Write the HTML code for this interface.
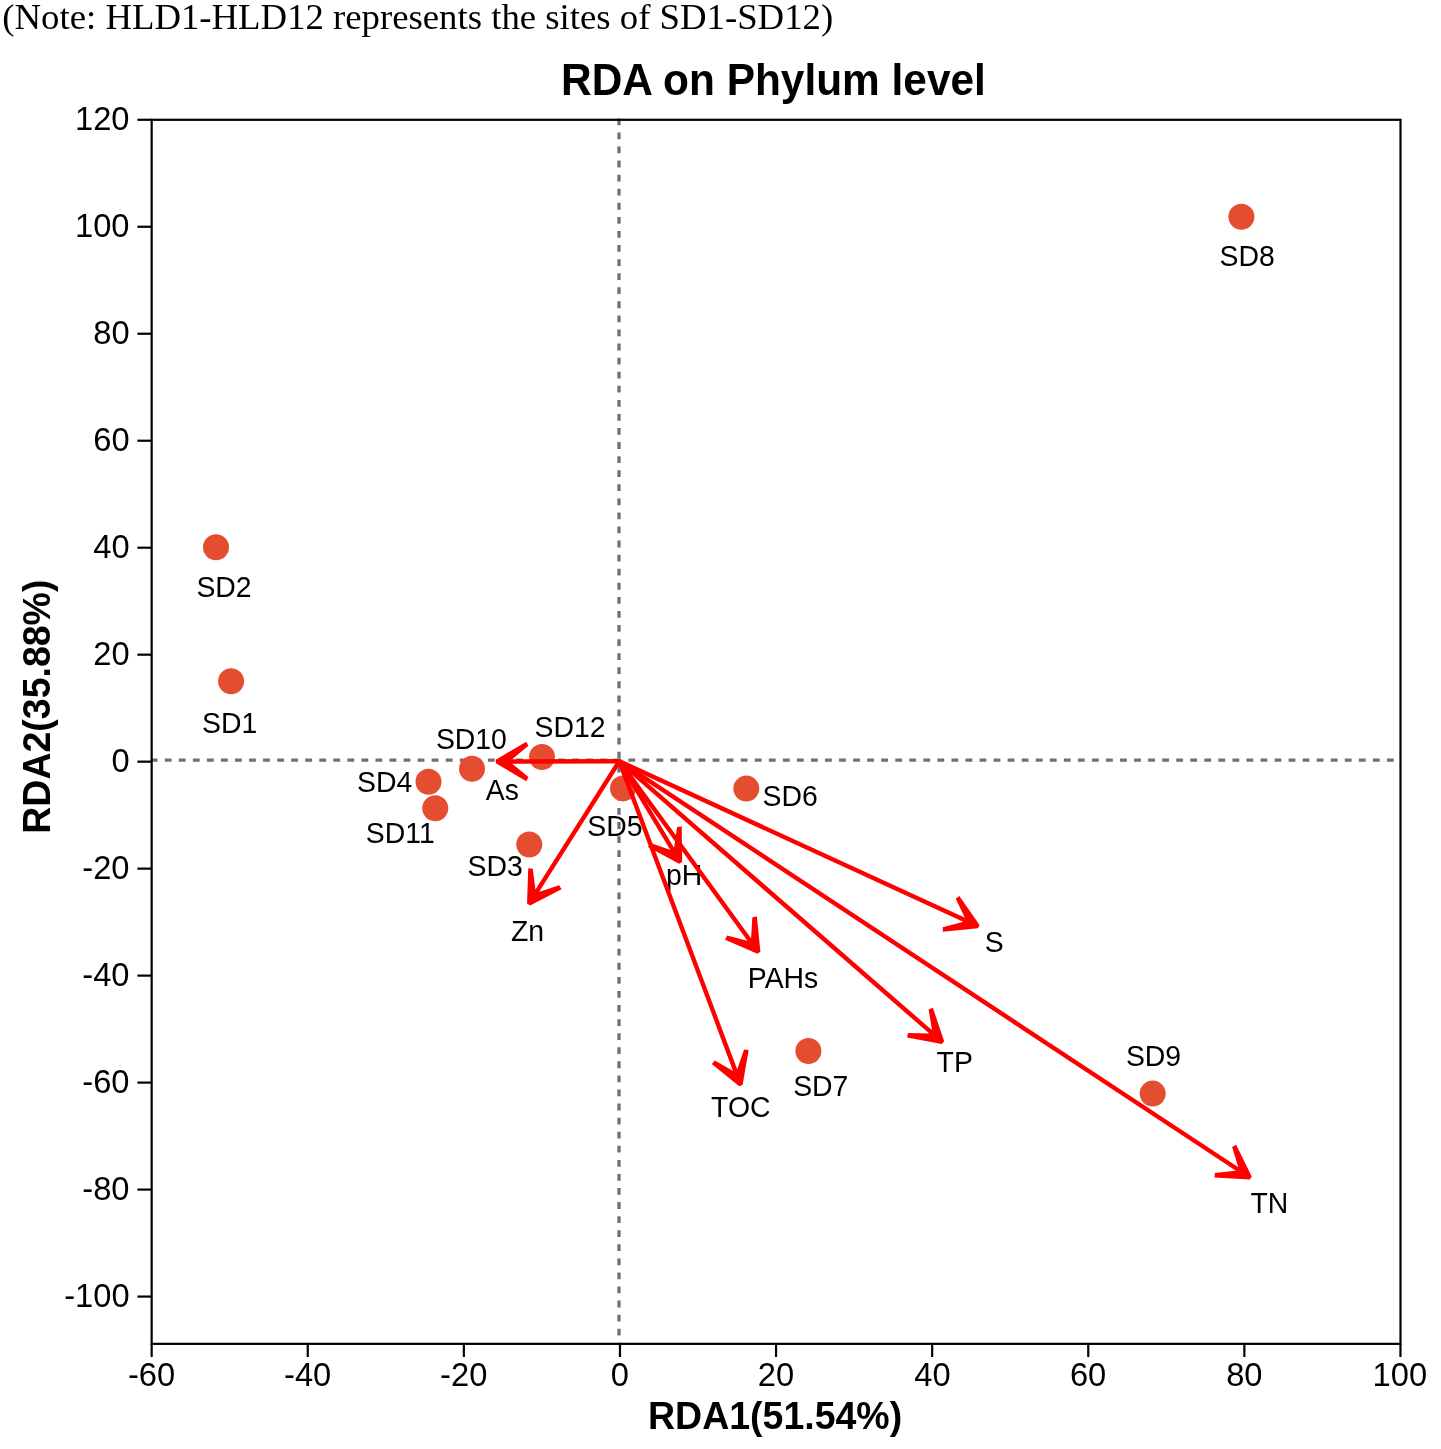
<!DOCTYPE html>
<html><head><meta charset="utf-8"><title>RDA on Phylum level</title>
<style>html,body{margin:0;padding:0;background:#fff;width:1441px;height:1449px;overflow:hidden;position:relative;font-family:"Liberation Sans",sans-serif}</style>
</head><body>
<svg width="1441" height="1449" viewBox="0 0 1441 1449" style="position:absolute;left:0;top:0;will-change:transform">
<rect width="1441" height="1449" fill="#fff"/>
<text transform="translate(2.34,28.62)" font-family="&quot;Liberation Serif&quot;, serif" font-weight="normal" font-size="36.75" fill="#000">(Note: HLD1-HLD12 represents the sites of SD1-SD12)</text>
<text transform="translate(561.03,95.41) scale(1,1.04)" font-family="&quot;Liberation Sans&quot;, sans-serif" font-weight="bold" font-size="42.4" fill="#000">RDA on Phylum level</text>
<line x1="150.73" y1="760.2" x2="1400.5" y2="760.2" stroke="#707070" stroke-width="3.3" stroke-dasharray="6.8 7.248"/>
<line x1="619.0" y1="118.4" x2="619.0" y2="1343.85" stroke="#707070" stroke-width="3.3" stroke-dasharray="6.8 7.274"/>
<circle cx="1241.4" cy="216.7" r="13" fill="#E54D30"/>
<circle cx="216" cy="547.3" r="13" fill="#E54D30"/>
<circle cx="231.1" cy="681.2" r="13" fill="#E54D30"/>
<circle cx="542" cy="757" r="13" fill="#E54D30"/>
<circle cx="472" cy="768.75" r="13" fill="#E54D30"/>
<circle cx="428.5" cy="781.75" r="13" fill="#E54D30"/>
<circle cx="435.25" cy="808.25" r="13" fill="#E54D30"/>
<circle cx="529.25" cy="844.5" r="13" fill="#E54D30"/>
<circle cx="623" cy="788.4" r="13" fill="#E54D30"/>
<circle cx="746.3" cy="788.6" r="13" fill="#E54D30"/>
<circle cx="808.4" cy="1051" r="13" fill="#E54D30"/>
<circle cx="1152.7" cy="1093.6" r="13" fill="#E54D30"/>
<text transform="translate(1219.55,265.91) scale(1,1.025)" font-family="&quot;Liberation Sans&quot;, sans-serif" font-weight="normal" font-size="28.4" fill="#000">SD8</text>
<text transform="translate(196.40,597.16) scale(1,1.025)" font-family="&quot;Liberation Sans&quot;, sans-serif" font-weight="normal" font-size="28.4" fill="#000">SD2</text>
<text transform="translate(202.07,733.11) scale(1,1.025)" font-family="&quot;Liberation Sans&quot;, sans-serif" font-weight="normal" font-size="28.4" fill="#000">SD1</text>
<text transform="translate(534.47,736.96) scale(1,1.025)" font-family="&quot;Liberation Sans&quot;, sans-serif" font-weight="normal" font-size="28.4" fill="#000">SD12</text>
<text transform="translate(435.89,749.38) scale(1,1.025)" font-family="&quot;Liberation Sans&quot;, sans-serif" font-weight="normal" font-size="28.4" fill="#000">SD10</text>
<text transform="translate(485.76,799.86) scale(1,1.025)" font-family="&quot;Liberation Sans&quot;, sans-serif" font-weight="normal" font-size="28.4" fill="#000">As</text>
<text transform="translate(357.01,791.88) scale(1,1.025)" font-family="&quot;Liberation Sans&quot;, sans-serif" font-weight="normal" font-size="28.4" fill="#000">SD4</text>
<text transform="translate(365.85,842.76) scale(1,1.025)" font-family="&quot;Liberation Sans&quot;, sans-serif" font-weight="normal" font-size="28.4" fill="#000">SD11</text>
<text transform="translate(467.47,875.63) scale(1,1.025)" font-family="&quot;Liberation Sans&quot;, sans-serif" font-weight="normal" font-size="28.4" fill="#000">SD3</text>
<text transform="translate(587.31,835.63) scale(1,1.025)" font-family="&quot;Liberation Sans&quot;, sans-serif" font-weight="normal" font-size="28.4" fill="#000">SD5</text>
<text transform="translate(510.92,940.63) scale(1,1.025)" font-family="&quot;Liberation Sans&quot;, sans-serif" font-weight="normal" font-size="28.4" fill="#000">Zn</text>
<text transform="translate(762.50,805.51) scale(1,1.025)" font-family="&quot;Liberation Sans&quot;, sans-serif" font-weight="normal" font-size="28.4" fill="#000">SD6</text>
<text transform="translate(665.96,885.21) scale(1,1.025)" font-family="&quot;Liberation Sans&quot;, sans-serif" font-weight="normal" font-size="28.4" fill="#000">pH</text>
<text transform="translate(747.82,988.31) scale(1,1.025)" font-family="&quot;Liberation Sans&quot;, sans-serif" font-weight="normal" font-size="28.4" fill="#000">PAHs</text>
<text transform="translate(984.81,951.61) scale(1,1.025)" font-family="&quot;Liberation Sans&quot;, sans-serif" font-weight="normal" font-size="28.4" fill="#000">S</text>
<text transform="translate(793.15,1095.76) scale(1,1.025)" font-family="&quot;Liberation Sans&quot;, sans-serif" font-weight="normal" font-size="28.4" fill="#000">SD7</text>
<text transform="translate(711.08,1116.96) scale(1,1.025)" font-family="&quot;Liberation Sans&quot;, sans-serif" font-weight="normal" font-size="28.4" fill="#000">TOC</text>
<text transform="translate(936.54,1071.86) scale(1,1.025)" font-family="&quot;Liberation Sans&quot;, sans-serif" font-weight="normal" font-size="28.4" fill="#000">TP</text>
<text transform="translate(1125.93,1066.41) scale(1,1.025)" font-family="&quot;Liberation Sans&quot;, sans-serif" font-weight="normal" font-size="28.4" fill="#000">SD9</text>
<text transform="translate(1250.43,1213.21) scale(1,1.025)" font-family="&quot;Liberation Sans&quot;, sans-serif" font-weight="normal" font-size="28.4" fill="#000">TN</text>
<g stroke="#ff0000" stroke-width="4.4" stroke-linecap="butt" fill="none"><line x1="619.3" y1="761.2" x2="504.80" y2="761.48"/><line x1="619.3" y1="761.2" x2="533.38" y2="896.94"/><line x1="619.3" y1="761.2" x2="675.97" y2="855.15"/><line x1="619.3" y1="761.2" x2="753.64" y2="945.44"/><line x1="619.3" y1="761.2" x2="737.74" y2="1077.11"/><line x1="619.3" y1="761.2" x2="970.63" y2="922.86"/><line x1="619.3" y1="761.2" x2="936.16" y2="1036.65"/><line x1="619.3" y1="761.2" x2="1243.22" y2="1172.99"/></g>
<g fill="#ff0000" stroke="none"><polygon points="495.80,763.30 526.35,781.13 528.44,777.02 512.51,763.96 512.49,758.96 528.36,745.82 526.25,741.73 495.80,759.70"/><polygon points="530.09,905.51 561.52,889.31 559.18,885.34 539.61,891.77 535.38,889.10 532.82,868.66 528.23,868.24 527.04,903.58"/><polygon points="682.16,861.93 681.73,826.56 677.14,826.88 674.13,847.26 669.85,849.85 650.42,843.00 647.99,846.91 679.08,863.79"/><polygon points="760.39,951.65 756.89,916.46 752.34,917.18 751.12,937.74 747.08,940.69 727.13,935.56 725.05,939.67 757.48,953.77"/><polygon points="742.59,1084.90 748.64,1050.06 744.06,1049.53 737.38,1069.02 732.70,1070.78 714.85,1060.49 711.75,1063.89 739.22,1086.17"/><polygon points="979.56,924.98 959.34,895.97 955.71,898.82 964.68,917.37 962.59,921.91 942.67,927.16 942.87,931.77 978.06,928.25"/><polygon points="944.14,1041.20 932.86,1007.68 928.59,1009.39 931.99,1029.71 928.71,1033.49 908.12,1032.94 907.01,1037.41 941.77,1043.91"/><polygon points="1251.73,1176.45 1236.13,1144.71 1232.12,1146.97 1238.17,1166.67 1235.42,1170.84 1214.93,1173.01 1214.43,1177.59 1249.74,1179.45"/></g>
<rect x="151.66" y="119.8" width="1248.84" height="1224.05" fill="none" stroke="#000" stroke-width="2.2"/>
<g stroke="#000" stroke-width="2.2"><line x1="151.66" y1="1343.85" x2="151.66" y2="1357.0"/><line x1="307.76" y1="1343.85" x2="307.76" y2="1357.0"/><line x1="463.86" y1="1343.85" x2="463.86" y2="1357.0"/><line x1="619.96" y1="1343.85" x2="619.96" y2="1357.0"/><line x1="776.06" y1="1343.85" x2="776.06" y2="1357.0"/><line x1="932.16" y1="1343.85" x2="932.16" y2="1357.0"/><line x1="1088.26" y1="1343.85" x2="1088.26" y2="1357.0"/><line x1="1244.36" y1="1343.85" x2="1244.36" y2="1357.0"/><line x1="1400.46" y1="1343.85" x2="1400.46" y2="1357.0"/><line x1="137.4" y1="1296.56" x2="151.66" y2="1296.56"/><line x1="137.4" y1="1189.58" x2="151.66" y2="1189.58"/><line x1="137.4" y1="1082.60" x2="151.66" y2="1082.60"/><line x1="137.4" y1="975.62" x2="151.66" y2="975.62"/><line x1="137.4" y1="868.64" x2="151.66" y2="868.64"/><line x1="137.4" y1="761.66" x2="151.66" y2="761.66"/><line x1="137.4" y1="654.68" x2="151.66" y2="654.68"/><line x1="137.4" y1="547.70" x2="151.66" y2="547.70"/><line x1="137.4" y1="440.72" x2="151.66" y2="440.72"/><line x1="137.4" y1="333.74" x2="151.66" y2="333.74"/><line x1="137.4" y1="226.76" x2="151.66" y2="226.76"/><line x1="137.4" y1="119.78" x2="151.66" y2="119.78"/></g>
<text transform="translate(127.91,1386.49) scale(1,1.04)" font-family="&quot;Liberation Sans&quot;, sans-serif" font-weight="normal" font-size="32.7" fill="#000">-60</text>
<text transform="translate(284.01,1386.49) scale(1,1.04)" font-family="&quot;Liberation Sans&quot;, sans-serif" font-weight="normal" font-size="32.7" fill="#000">-40</text>
<text transform="translate(440.11,1386.49) scale(1,1.04)" font-family="&quot;Liberation Sans&quot;, sans-serif" font-weight="normal" font-size="32.7" fill="#000">-20</text>
<text transform="translate(610.84,1386.49) scale(1,1.04)" font-family="&quot;Liberation Sans&quot;, sans-serif" font-weight="normal" font-size="32.7" fill="#000">0</text>
<text transform="translate(757.71,1386.49) scale(1,1.04)" font-family="&quot;Liberation Sans&quot;, sans-serif" font-weight="normal" font-size="32.7" fill="#000">20</text>
<text transform="translate(914.26,1386.49) scale(1,1.04)" font-family="&quot;Liberation Sans&quot;, sans-serif" font-weight="normal" font-size="32.7" fill="#000">40</text>
<text transform="translate(1069.91,1386.49) scale(1,1.04)" font-family="&quot;Liberation Sans&quot;, sans-serif" font-weight="normal" font-size="32.7" fill="#000">60</text>
<text transform="translate(1226.13,1386.49) scale(1,1.04)" font-family="&quot;Liberation Sans&quot;, sans-serif" font-weight="normal" font-size="32.7" fill="#000">80</text>
<text transform="translate(1372.58,1386.49) scale(1,1.04)" font-family="&quot;Liberation Sans&quot;, sans-serif" font-weight="normal" font-size="32.7" fill="#000">100</text>
<text transform="translate(64.13,1306.55) scale(1,1.04)" font-family="&quot;Liberation Sans&quot;, sans-serif" font-weight="normal" font-size="32.7" fill="#000">-100</text>
<text transform="translate(82.27,1199.57) scale(1,1.04)" font-family="&quot;Liberation Sans&quot;, sans-serif" font-weight="normal" font-size="32.7" fill="#000">-80</text>
<text transform="translate(82.27,1092.59) scale(1,1.04)" font-family="&quot;Liberation Sans&quot;, sans-serif" font-weight="normal" font-size="32.7" fill="#000">-60</text>
<text transform="translate(82.27,985.61) scale(1,1.04)" font-family="&quot;Liberation Sans&quot;, sans-serif" font-weight="normal" font-size="32.7" fill="#000">-40</text>
<text transform="translate(82.27,878.63) scale(1,1.04)" font-family="&quot;Liberation Sans&quot;, sans-serif" font-weight="normal" font-size="32.7" fill="#000">-20</text>
<text transform="translate(111.38,771.65) scale(1,1.04)" font-family="&quot;Liberation Sans&quot;, sans-serif" font-weight="normal" font-size="32.7" fill="#000">0</text>
<text transform="translate(93.23,664.67) scale(1,1.04)" font-family="&quot;Liberation Sans&quot;, sans-serif" font-weight="normal" font-size="32.7" fill="#000">20</text>
<text transform="translate(93.23,557.69) scale(1,1.04)" font-family="&quot;Liberation Sans&quot;, sans-serif" font-weight="normal" font-size="32.7" fill="#000">40</text>
<text transform="translate(93.23,450.71) scale(1,1.04)" font-family="&quot;Liberation Sans&quot;, sans-serif" font-weight="normal" font-size="32.7" fill="#000">60</text>
<text transform="translate(93.23,343.73) scale(1,1.04)" font-family="&quot;Liberation Sans&quot;, sans-serif" font-weight="normal" font-size="32.7" fill="#000">80</text>
<text transform="translate(75.00,236.75) scale(1,1.04)" font-family="&quot;Liberation Sans&quot;, sans-serif" font-weight="normal" font-size="32.7" fill="#000">100</text>
<text transform="translate(75.00,129.77) scale(1,1.04)" font-family="&quot;Liberation Sans&quot;, sans-serif" font-weight="normal" font-size="32.7" fill="#000">120</text>
<text transform="translate(648.00,1428.70) scale(1,1.02)" font-family="&quot;Liberation Sans&quot;, sans-serif" font-weight="bold" font-size="37.5" fill="#000">RDA1(51.54%)</text>
<text transform="translate(49.60,833.75) rotate(-90) scale(1,1.02)" font-family="&quot;Liberation Sans&quot;, sans-serif" font-weight="bold" font-size="37.5" fill="#000">RDA2(35.88%)</text>
</svg>
</body></html>
